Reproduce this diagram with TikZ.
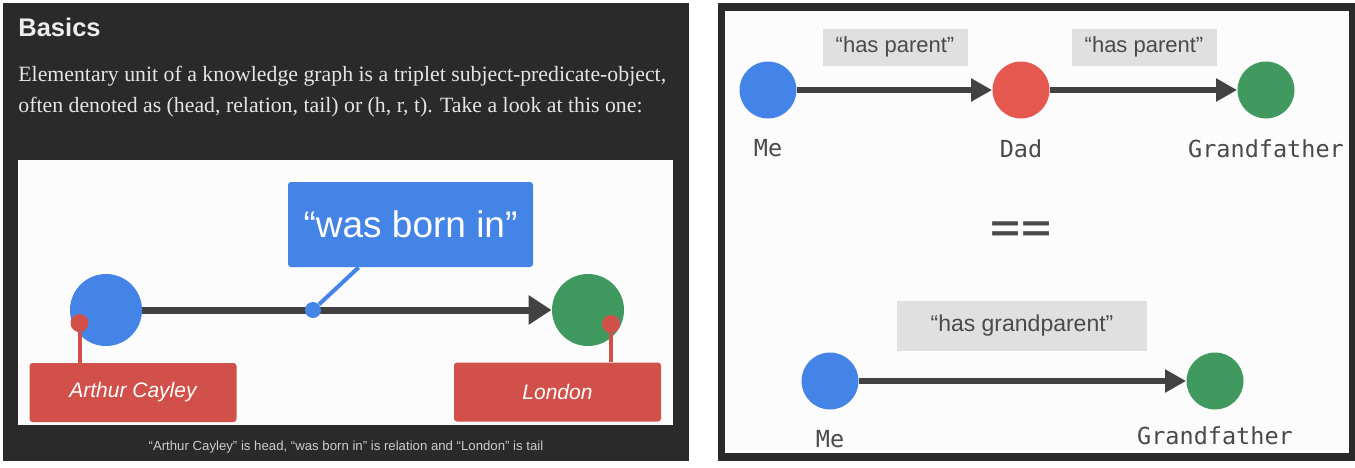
\documentclass[tikz,border=0pt]{standalone}
\usepackage{fontspec}
\setmainfont{Liberation Serif}
\newfontfamily\uisans{Liberation Sans}
\newfontfamily\codefont{DejaVu Sans Mono}
\usetikzlibrary{arrows.meta,positioning}
\definecolor{panelbg}{HTML}{2A2A2A}
\definecolor{slidebg}{HTML}{FCFCFD}
\definecolor{kgblue}{HTML}{4584E7}
\definecolor{kgred}{HTML}{D1504A}
\definecolor{kgredlight}{HTML}{E5584F}
\definecolor{kggreen}{HTML}{409A60}
\definecolor{edgegray}{HTML}{424242}
\definecolor{tagbg}{HTML}{E0E0E0}
\definecolor{tagtext}{HTML}{4A4A4A}
\begin{document}
\begin{tikzpicture}[x=0.5pt, y=-0.5pt,
  ent/.style={circle, minimum size=36pt, inner sep=0pt},
  smallent/.style={circle, minimum size=28.5pt, inner sep=0pt},
  pin/.style={circle, minimum size=9pt, inner sep=0pt, fill=kgred},
  namebox/.style={fill=kgred, rounded corners=1.5pt, minimum width=103.5pt, minimum height=29.5pt, text=white, font=\uisans\itshape\fontsize{10.5}{12}\selectfont},
  relbox/.style={fill=kgblue, rounded corners=1.5pt, minimum width=122.5pt, minimum height=42.5pt, text=white, font=\uisans\fontsize{18.5}{22}\selectfont},
  tag/.style={fill=tagbg, text=tagtext, minimum height=18.5pt, inner sep=0pt, font=\uisans\fontsize{11}{13}\selectfont},
  mono/.style={inner sep=0pt, text=tagtext, font=\codefont\fontsize{11.75}{14}\selectfont},
  bigedge/.style={draw=edgegray, line width=3.5pt, -{Triangle[length=11.5pt, width=14pt]}},
  edge/.style={draw=edgegray, line width=3pt, -{Triangle[length=10.5pt, width=11pt]}},
  intro/.style={inner sep=0pt, text=white!90!black, font=\fontsize{10.9}{15.5}\selectfont}]
\useasboundingbox (0,0) rectangle (1355,467);
\fill[white] (0,0) rectangle (1355,467);
\fill[panelbg] (3,3) rectangle (689,461);
\fill[slidebg] (18,160) rectangle (673,425);
\fill[panelbg] (718,3) rectangle (1355,461);
\fill[slidebg] (725,11) rectangle (1349,453);

\node[anchor=base west, inner sep=0pt, text=white!93!black, font=\uisans\bfseries\fontsize{12.75}{15}\selectfont] (title) at (18,36) {Basics};
\node[intro, anchor=base west] (line1) at (18,81) {Elementary unit of a knowledge graph is a triplet subject-predicate-object,};
\node[intro, anchor=base west] (line2) at (18,112) {often denoted as (head, relation, tail) or (h, r, t). Take a look at this one:};

\node[ent, fill=kgblue] (head) at (106,310) {};
\node[ent, fill=kggreen] (tail) at (588,310) {};
\draw[bigedge] (head) -- (tail);
\node[circle, minimum size=8pt, inner sep=0pt, fill=kgblue] (relpt) at (313,310) {};
\node[relbox] (rel) at (410.5,224.5) {“was born in”};
\draw[kgblue, line width=2pt] (relpt) -- ([xshift=35.5pt]rel.south west);
\node[pin] (hpin) at (79.5,323) {};
\node[pin] (tpin) at (611,324) {};
\node[namebox] (hname) at (133,392.5) {Arthur Cayley};
\node[namebox] (tname) at (557.5,392) {London};
\draw[kgred, line width=2pt] (hpin) -- (hpin |- hname.north);
\draw[kgred, line width=2pt] (tpin) -- (tpin |- tname.north);
\node[anchor=base, inner sep=0pt, text=white!80!black, font=\uisans\fontsize{6.6}{8}\selectfont] (cap) at (346,450) {“Arthur Cayley” is head, “was born in” is relation and “London” is tail};

\node[smallent, fill=kgblue] (me) at (768,90) {};
\node[smallent, fill=kgredlight] (dad) at (1021,90) {};
\node[smallent, fill=kggreen] (gf) at (1266,90) {};
\draw[edge] (me) -- (dad);
\draw[edge] (dad) -- (gf);
\node[tag, minimum width=72.5pt] (p1) at (895,47) {“has parent”};
\node[tag, minimum width=72.5pt] (p2) at (1144,47) {“has parent”};
\node[mono, below=10pt of me] (meL) {Me};
\node[mono, below=10pt of dad] (dadL) {Dad};
\node[mono, below=10pt of gf] (gfL) {Grandfather};

\node[inner sep=0pt, text=tagtext, font=\codefont\fontsize{25}{30}\selectfont] (eq) at (1021,233) {==};

\node[smallent, fill=kgblue] (me2) at (830,381) {};
\node[smallent, fill=kggreen] (gf2) at (1215,381) {};
\draw[edge] (me2) -- (gf2);
\node[tag, minimum width=125pt, minimum height=25pt, font=\uisans\fontsize{11.5}{13}\selectfont] (gp) at (1022,326) {“has grandparent”};
\node[mono, below=10pt of me2] (me2L) {Me};
\node[mono, below=8pt of gf2] (gf2L) {Grandfather};
\end{tikzpicture}
\end{document}
